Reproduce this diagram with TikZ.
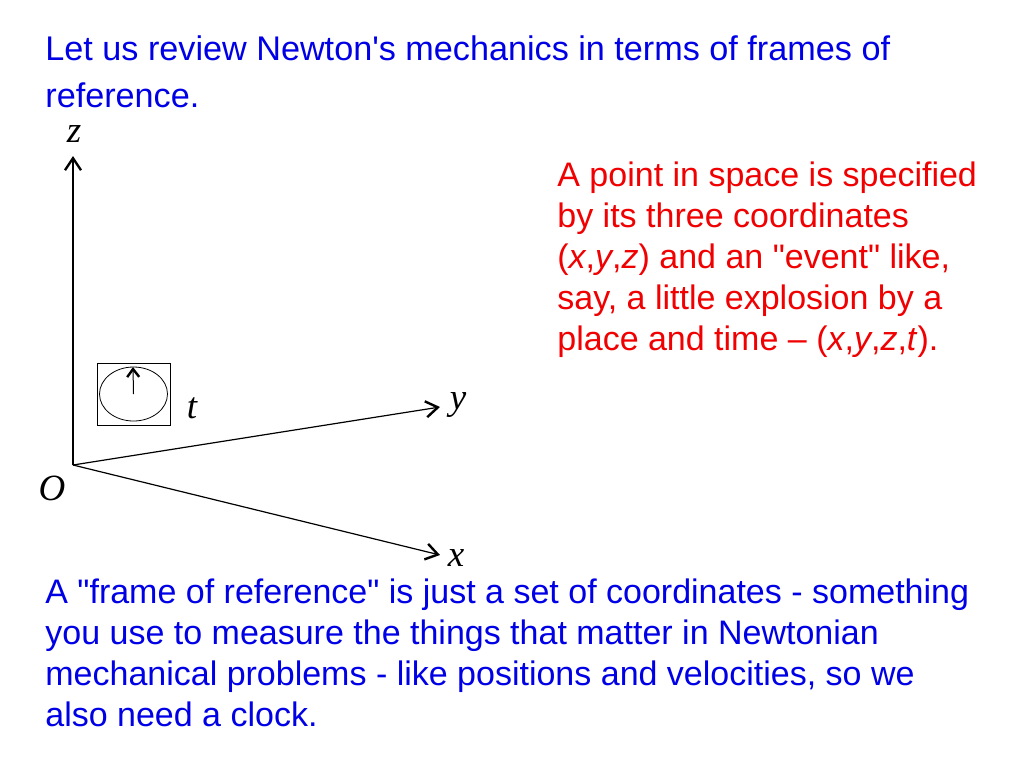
\documentclass[tikz,border=0pt]{standalone}
\usepackage{fontspec}
\setmainfont{Liberation Sans}
\newfontfamily\axisfont{Liberation Serif}
\usetikzlibrary{arrows.meta}
\definecolor{titleblue}{RGB}{0,0,230}
\definecolor{notered}{RGB}{240,0,0}

\begin{document}
\begin{tikzpicture}[
  x=0.5pt, y=-0.5pt,
  axis/.style={line width=0.6pt, -{Straight Barb[length=6pt,width=8pt,line width=1.2pt]}},
  axlbl/.style={font=\fontsize{18.5}{18.5}\selectfont\axisfont\itshape, inner sep=0pt},
  bluetext/.style={anchor=base west, align=left, inner sep=0pt, text=titleblue},
  redtext/.style={anchor=base west, align=left, inner sep=0pt, text=notered,
    font=\fontsize{17}{20.5}\selectfont}
]
\useasboundingbox (0,0) rectangle (1024,768);

% title
\node[bluetext, font=\fontsize{17.1}{23.5}\selectfont] (title) at (45,107)
  {Let us review Newton\textquotesingle s mechanics in terms of frames of\\reference.};

% axes
\coordinate (O) at (73,465);
\coordinate (zend) at (73,156);
\coordinate (yend) at (440,407);
\coordinate (xend) at (440,555);
\draw[axis] (O) -- (zend);
\draw[axis] (O) -- (yend);
\draw[axis] (O) -- (xend);
\node[axlbl] (zlbl) at (74,134) {z};
\node[axlbl] (ylbl) at (458,405) {y};
\node[axlbl] (xlbl) at (456,558) {x};
\node[axlbl] (olbl) at (52,488) {O};

% clock
\node[draw, line width=0.5pt, minimum width=36.5pt, minimum height=31pt, inner sep=0pt]
  (clock) at (133.5,394) {};
\draw[line width=0.4pt] (clock.center) ellipse (17pt and 13.5pt);
\coordinate (hand) at (133,367);
\draw[line width=0.5pt, -{Straight Barb[length=4pt,width=6pt,line width=1.2pt]}]
  (clock.center) -- (hand);
\node[axlbl] (tlbl) at (192,408) {t};

% red note
\node[redtext] (note) at (557,350)
  {A point in space is specified\\
   by its three coordinates\\
   (\textit{x},\textit{y},\textit{z}) and an \textquotedbl event\textquotedbl\ like,\\
   say, a little explosion by a\\
   place and time -- (\textit{x},\textit{y},\textit{z},\textit{t}).};

% bottom text
\node[bluetext, font=\fontsize{17}{20.5}\selectfont] (frame) at (45,726)
  {A \textquotedbl frame of reference\textquotedbl\ is just a set of coordinates - something\\
   you use to measure the things that matter in Newtonian\\
   mechanical problems - like positions and velocities, so we\\
   also need a clock.};
\end{tikzpicture}
\end{document}
